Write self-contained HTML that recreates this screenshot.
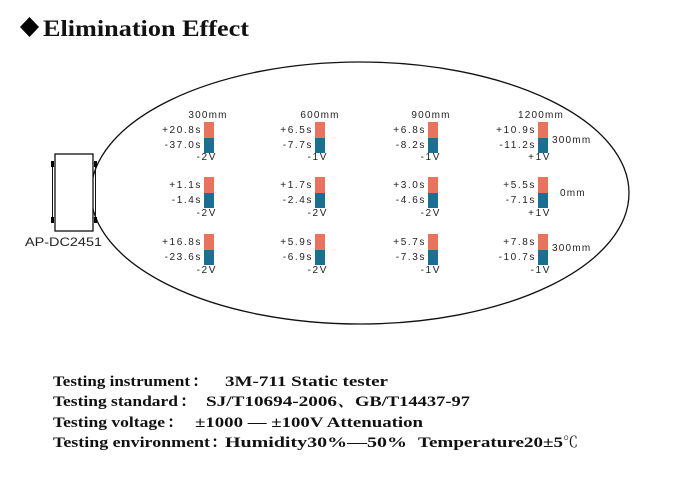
<!DOCTYPE html>
<html>
<head>
<meta charset="utf-8">
<style>
html,body{margin:0;padding:0;background:#fff;}
svg{display:block;}
.v{font-family:"Liberation Sans",sans-serif;font-size:10px;fill:#222;letter-spacing:1.6px;}
.h{font-family:"Liberation Sans",sans-serif;font-size:10px;fill:#222;letter-spacing:1.2px;}
.b{font-family:"Liberation Serif","Noto Serif CJK SC",serif;font-weight:bold;font-size:15px;fill:#111;}
</style>
</head>
<body>
<svg width="700" height="500" viewBox="0 0 700 500" xmlns="http://www.w3.org/2000/svg">
<rect width="700" height="500" fill="#fff"/>
<!-- Title -->
<polygon points="29.5,17 39,27 29.5,37 20,27" fill="#000"/>
<text x="43" y="36" font-family="Liberation Serif, serif" font-weight="bold" font-size="23" fill="#111" textLength="206" lengthAdjust="spacingAndGlyphs">Elimination Effect</text>

<!-- Ellipse -->
<ellipse cx="360" cy="193" rx="269" ry="131" fill="none" stroke="#111" stroke-width="1.3"/>

<!-- Device -->
<rect x="55" y="154" width="38" height="77" fill="#fff" stroke="#111" stroke-width="1.3"/>
<line x1="52.5" y1="163" x2="52.5" y2="222" stroke="#111" stroke-width="1"/>
<line x1="95.5" y1="163" x2="95.5" y2="222" stroke="#111" stroke-width="1"/>
<rect x="51" y="161" width="3" height="6" fill="#000"/>
<rect x="51" y="217" width="3" height="6" fill="#000"/>
<rect x="94" y="161" width="3" height="6" fill="#000"/>
<rect x="94" y="217" width="3" height="6" fill="#000"/>
<text x="25" y="246" font-family="Liberation Sans, sans-serif" font-size="12" fill="#222" textLength="77" lengthAdjust="spacingAndGlyphs">AP-DC2451</text>

<!-- Column headers -->
<text class="h" x="208" y="118" text-anchor="middle">300mm</text>
<text class="h" x="320" y="118" text-anchor="middle">600mm</text>
<text class="h" x="431" y="118" text-anchor="middle">900mm</text>
<text class="h" x="541" y="118" text-anchor="middle">1200mm</text>

<!-- Row labels right -->
<text class="h" x="552" y="143">300mm</text>
<text class="h" x="560" y="196">0mm</text>
<text class="h" x="552" y="251">300mm</text>

<!-- Bars -->
<g>
<!-- row 1 top 122 -->
<rect x="204" y="122" width="10" height="16" fill="#e8745f"/><rect x="204" y="138" width="10" height="15" fill="#1a6f93"/>
<rect x="315" y="122" width="10" height="16" fill="#e8745f"/><rect x="315" y="138" width="10" height="15" fill="#1a6f93"/>
<rect x="428" y="122" width="10" height="16" fill="#e8745f"/><rect x="428" y="138" width="10" height="15" fill="#1a6f93"/>
<rect x="538" y="122" width="10" height="16" fill="#e8745f"/><rect x="538" y="138" width="10" height="15" fill="#1a6f93"/>
<!-- row 2 top 177 -->
<rect x="204" y="177" width="10" height="16" fill="#e8745f"/><rect x="204" y="193" width="10" height="15" fill="#1a6f93"/>
<rect x="315" y="177" width="10" height="16" fill="#e8745f"/><rect x="315" y="193" width="10" height="15" fill="#1a6f93"/>
<rect x="428" y="177" width="10" height="16" fill="#e8745f"/><rect x="428" y="193" width="10" height="15" fill="#1a6f93"/>
<rect x="538" y="177" width="10" height="16" fill="#e8745f"/><rect x="538" y="193" width="10" height="15" fill="#1a6f93"/>
<!-- row 3 top 234 -->
<rect x="204" y="234" width="10" height="16" fill="#e8745f"/><rect x="204" y="250" width="10" height="15" fill="#1a6f93"/>
<rect x="315" y="234" width="10" height="16" fill="#e8745f"/><rect x="315" y="250" width="10" height="15" fill="#1a6f93"/>
<rect x="428" y="234" width="10" height="16" fill="#e8745f"/><rect x="428" y="250" width="10" height="15" fill="#1a6f93"/>
<rect x="538" y="234" width="10" height="16" fill="#e8745f"/><rect x="538" y="250" width="10" height="15" fill="#1a6f93"/>
</g>

<!-- Values row 1 -->
<text class="v" x="202" y="133" text-anchor="end">+20.8s</text>
<text class="v" x="202" y="148" text-anchor="end">-37.0s</text>
<text class="v" x="217" y="160" text-anchor="end">-2V</text>
<text class="v" x="313" y="133" text-anchor="end">+6.5s</text>
<text class="v" x="313" y="148" text-anchor="end">-7.7s</text>
<text class="v" x="328" y="160" text-anchor="end">-1V</text>
<text class="v" x="426" y="133" text-anchor="end">+6.8s</text>
<text class="v" x="426" y="148" text-anchor="end">-8.2s</text>
<text class="v" x="441" y="160" text-anchor="end">-1V</text>
<text class="v" x="536" y="133" text-anchor="end">+10.9s</text>
<text class="v" x="536" y="148" text-anchor="end">-11.2s</text>
<text class="v" x="551" y="160" text-anchor="end">+1V</text>

<!-- Values row 2 -->
<text class="v" x="202" y="188" text-anchor="end">+1.1s</text>
<text class="v" x="202" y="203" text-anchor="end">-1.4s</text>
<text class="v" x="217" y="216" text-anchor="end">-2V</text>
<text class="v" x="313" y="188" text-anchor="end">+1.7s</text>
<text class="v" x="313" y="203" text-anchor="end">-2.4s</text>
<text class="v" x="328" y="216" text-anchor="end">-2V</text>
<text class="v" x="426" y="188" text-anchor="end">+3.0s</text>
<text class="v" x="426" y="203" text-anchor="end">-4.6s</text>
<text class="v" x="441" y="216" text-anchor="end">-2V</text>
<text class="v" x="536" y="188" text-anchor="end">+5.5s</text>
<text class="v" x="536" y="203" text-anchor="end">-7.1s</text>
<text class="v" x="551" y="216" text-anchor="end">+1V</text>

<!-- Values row 3 -->
<text class="v" x="202" y="245" text-anchor="end">+16.8s</text>
<text class="v" x="202" y="260" text-anchor="end">-23.6s</text>
<text class="v" x="217" y="273" text-anchor="end">-2V</text>
<text class="v" x="313" y="245" text-anchor="end">+5.9s</text>
<text class="v" x="313" y="260" text-anchor="end">-6.9s</text>
<text class="v" x="328" y="273" text-anchor="end">-2V</text>
<text class="v" x="426" y="245" text-anchor="end">+5.7s</text>
<text class="v" x="426" y="260" text-anchor="end">-7.3s</text>
<text class="v" x="441" y="273" text-anchor="end">-1V</text>
<text class="v" x="536" y="245" text-anchor="end">+7.8s</text>
<text class="v" x="536" y="260" text-anchor="end">-10.7s</text>
<text class="v" x="551" y="273" text-anchor="end">-1V</text>

<!-- Bottom text -->
<text class="b" x="53" y="386" textLength="137" lengthAdjust="spacingAndGlyphs">Testing instrument</text>
<text class="b" x="192" y="386">：</text>
<text class="b" x="225" y="386" textLength="163" lengthAdjust="spacingAndGlyphs">3M-711 Static tester</text>

<text class="b" x="53" y="406" textLength="125" lengthAdjust="spacingAndGlyphs">Testing standard</text>
<text class="b" x="180" y="406">：</text>
<text class="b" x="206" y="406" textLength="131" lengthAdjust="spacingAndGlyphs">SJ/T10694-2006</text>
<text class="b" x="338" y="406">、</text>
<text class="b" x="355" y="406" textLength="115" lengthAdjust="spacingAndGlyphs">GB/T14437-97</text>

<text class="b" x="53" y="427" textLength="112" lengthAdjust="spacingAndGlyphs">Testing voltage</text>
<text class="b" x="167" y="427">：</text>
<text class="b" x="195" y="427" textLength="228" lengthAdjust="spacingAndGlyphs">±1000 — ±100V Attenuation</text>

<text class="b" x="53" y="447" textLength="157" lengthAdjust="spacingAndGlyphs">Testing environment</text>
<text class="b" x="211" y="447">：</text>
<text class="b" x="225" y="447" textLength="182" lengthAdjust="spacingAndGlyphs">Humidity30%—50%</text>
<text class="b" x="418" y="447" textLength="145" lengthAdjust="spacingAndGlyphs">Temperature20±5</text>
<text x="563" y="447" font-family="Liberation Serif, Noto Serif CJK SC, serif" font-size="15" fill="#111">℃</text>
</svg>
</body>
</html>
